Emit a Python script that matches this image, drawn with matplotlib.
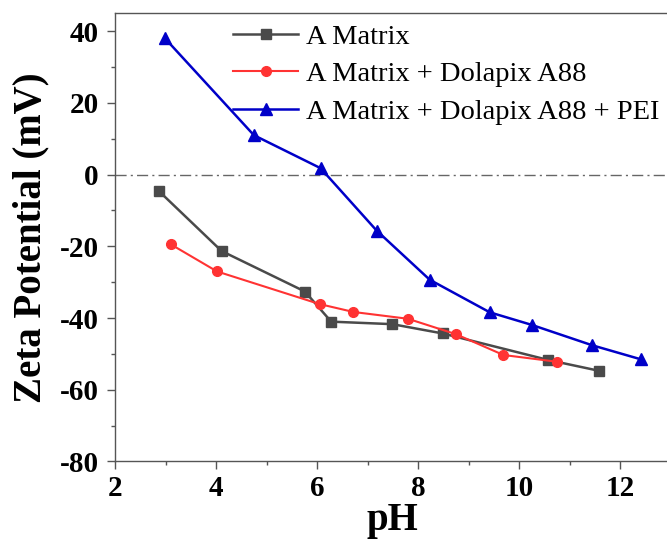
import numpy as np
import matplotlib.pyplot as plt
from matplotlib.ticker import MultipleLocator

plt.rcParams['font.family'] = ['Liberation Serif', 'DejaVu Serif']
plt.rcParams['axes.unicode_minus'] = False

# Data
ph_a = [2.87, 4.11, 5.76, 6.28, 7.49, 8.49, 10.58, 11.58]
zeta_a = [-4.6, -21.3, -32.6, -41.0, -41.7, -44.3, -51.7, -54.7]

ph_ad = [3.10, 4.02, 6.05, 6.72, 7.80, 8.75, 9.69, 10.76]
zeta_ad = [-19.4, -27.0, -36.1, -38.3, -40.2, -44.5, -50.3, -52.2]

ph_adp = [2.99, 4.75, 6.07, 7.18, 8.23, 9.42, 10.25, 11.45, 12.41]
zeta_adp = [38.0, 11.0, 1.8, -15.6, -29.3, -38.4, -41.9, -47.6, -51.5]

labels = ['A Matrix', 'A Matrix + Dolapix A88', 'A Matrix + Dolapix A88 + PEI']

fig = plt.figure(figsize=(6.67, 5.4), dpi=100)
ax = fig.add_axes([0.1724, 0.1454, 0.833, 0.830])

ax.axhline(0, color='#666666', lw=1.0, ls=(0, (8, 3, 1.5, 3)), zorder=1)

ax.plot(ph_a, zeta_a, '-s', color='#4a4a4a', lw=1.8, ms=7, label=labels[0])
ax.plot(ph_ad, zeta_ad, '-o', color='#ff3333', lw=1.5, ms=7, label=labels[1])
ax.plot(ph_adp, zeta_adp, '-^', color='#0000c8', lw=1.8, ms=8.5, label=labels[2])

ax.set_xlim(2, 13)
ax.set_ylim(-80, 45)
ax.xaxis.set_major_locator(MultipleLocator(2))
ax.xaxis.set_minor_locator(MultipleLocator(1))
ax.yaxis.set_major_locator(MultipleLocator(20))
ax.yaxis.set_minor_locator(MultipleLocator(10))

for s in ax.spines.values():
    s.set_color('#555555')
    s.set_linewidth(1.0)

ax.tick_params(which='major', direction='out', length=5.8, width=1, color='#555555',
               labelsize=21)
ax.tick_params(which='minor', direction='out', length=3, width=1, color='#555555')
ax.tick_params(axis='x', which='major', pad=4)
ax.tick_params(axis='y', which='major', pad=6)
ax.tick_params(top=False, right=False, which='both')
for lab in ax.get_xticklabels() + ax.get_yticklabels():
    lab.set_fontweight('bold')

ax.set_xlabel('pH', fontsize=28, fontweight='bold', labelpad=0)
ax.set_ylabel('Zeta Potential (mV)', fontsize=28, fontweight='bold', labelpad=7)

ax.legend(loc='upper left', bbox_to_anchor=(0.2124, 0.977), frameon=False, fontsize=20.5,
          handlelength=2.3, handletextpad=0.25, labelspacing=0.42,
          borderpad=0, borderaxespad=0)

plt.savefig('out.png', dpi=100)
